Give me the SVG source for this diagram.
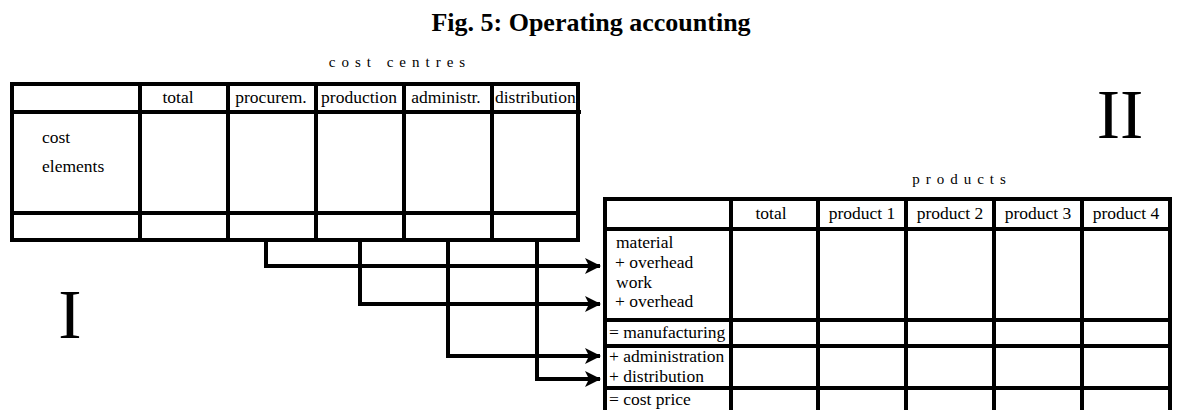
<svg xmlns="http://www.w3.org/2000/svg" width="1177" height="410" viewBox="0 0 1177 410">
<style>
text{font-family:"Liberation Serif","Times New Roman",serif;fill:#000}
.t{font-size:17.5px}
.c{text-anchor:middle}
.sp{font-size:15px;letter-spacing:6px}
.roman{font-size:70px}
.ln{stroke:#000;stroke-width:4;fill:none}
.con{stroke:#000;stroke-width:4;fill:none}
</style>
<defs>
<marker id="ah" viewBox="0 0 16 16" refX="15" refY="8" markerWidth="16" markerHeight="16" markerUnits="userSpaceOnUse" orient="auto">
<path d="M0,0 L16,8 L0,16 L4,8 Z" fill="#000"/>
</marker>
<clipPath id="clipDist"><rect x="494" y="86" width="84" height="24"/></clipPath>
</defs>
<rect width="1177" height="410" fill="#fff"/>
<text x="591" y="31" class="c" style="font-size:26px;font-weight:bold">Fig. 5: Operating accounting</text>

<g id="table-cost-centres">
<text x="400" y="67" class="sp c">cost centres</text>
<rect x="12" y="84" width="566" height="156" class="ln"/>
<line x1="12" y1="112" x2="581" y2="112" class="ln"/>
<line x1="12" y1="213" x2="578" y2="213" class="ln"/>
<line x1="140" y1="84" x2="140" y2="240" class="ln"/>
<line x1="228" y1="84" x2="228" y2="240" class="ln"/>
<line x1="316" y1="84" x2="316" y2="240" class="ln"/>
<line x1="404" y1="84" x2="404" y2="240" class="ln"/>
<line x1="492" y1="84" x2="492" y2="240" class="ln"/>
<text x="178" y="103" class="t c">total</text>
<text x="271" y="103" class="t c">procurem.</text>
<text x="359" y="103" class="t c">production</text>
<text x="446" y="103" class="t c">administr.</text>
<text x="495" y="103" class="t" clip-path="url(#clipDist)">distribution</text>
<text x="42" y="143" class="t">cost</text>
<text x="42" y="172" class="t">elements</text>
</g>

<g id="label-I"><text x="70" y="338" class="roman c">I</text></g>
<g id="label-II"><text x="1120" y="138" class="roman c">II</text></g>

<g id="table-products">
<text x="962" y="184" class="sp c">products</text>
<polyline points="605,412 605,199 1170,199 1170,412" class="ln"/>
<line x1="603" y1="229" x2="1172" y2="229" class="ln"/>
<line x1="603" y1="320" x2="1172" y2="320" class="ln"/>
<line x1="603" y1="346" x2="1172" y2="346" class="ln"/>
<line x1="603" y1="388" x2="1172" y2="388" class="ln"/>
<line x1="731" y1="199" x2="731" y2="412" class="ln"/>
<line x1="818" y1="199" x2="818" y2="412" class="ln"/>
<line x1="906" y1="199" x2="906" y2="412" class="ln"/>
<line x1="994" y1="199" x2="994" y2="412" class="ln"/>
<line x1="1082" y1="199" x2="1082" y2="412" class="ln"/>
<text x="771" y="219" class="t c">total</text>
<text x="862" y="219" class="t c">product 1</text>
<text x="950" y="219" class="t c">product 2</text>
<text x="1038" y="219" class="t c">product 3</text>
<text x="1126" y="219" class="t c">product 4</text>
<text x="616" y="248" class="t">material</text>
<text x="615" y="268" class="t">+ overhead</text>
<text x="616" y="288" class="t">work</text>
<text x="615" y="307" class="t">+ overhead</text>
<text x="609" y="338" class="t">= manufacturing</text>
<text x="609" y="362" class="t">+ administration</text>
<text x="609" y="382" class="t">+ distribution</text>
<text x="609" y="405" class="t">= cost price</text>
</g>

<g id="connectors">
<polyline points="266,240 266,266 600,266" class="con" marker-end="url(#ah)"/>
<polyline points="360,240 360,304 600,304" class="con" marker-end="url(#ah)"/>
<polyline points="448,240 448,356 600,356" class="con" marker-end="url(#ah)"/>
<polyline points="537,240 537,379 600,379" class="con" marker-end="url(#ah)"/>
</g>
</svg>
